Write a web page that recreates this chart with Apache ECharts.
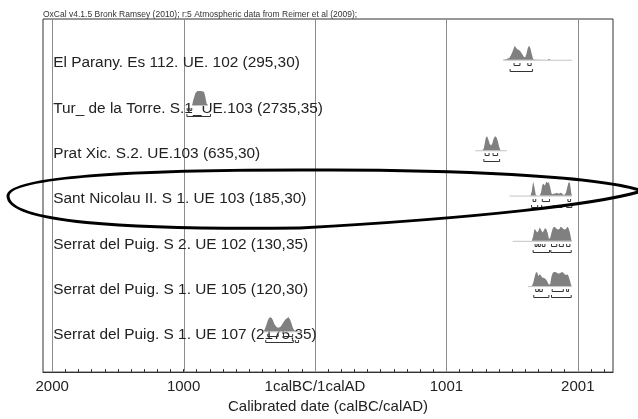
<!DOCTYPE html>
<html><head><meta charset="utf-8">
<script src="https://cdn.jsdelivr.net/npm/echarts@6/dist/echarts.min.js"></script>
<style>html,body{margin:0;padding:0;background:#fff}#c{width:638px;height:419px}</style>
</head><body><div id="c"></div>
<script>
const titleText = 'OxCal v4.1.5 Bronk Ramsey (2010); r:5 Atmospheric data from Reimer et al (2009);';
const axisTitle = 'Calibrated date (calBC/calAD)';
const sampleLabels = [
  'El Parany. Es 112. UE. 102 (295,30)',
  'Tur_ de la Torre. S.1_UE.103 (2735,35)',
  'Prat Xic. S.2. UE.103 (635,30)',
  'Sant Nicolau II. S 1. UE 103 (185,30)',
  'Serrat del Puig. S 2. UE 102 (130,35)',
  'Serrat del Puig. S 1. UE 105 (120,30)',
  'Serrat del Puig. S 1. UE 107 (2175,35)'
];
const tickYears = [-2000, -1000, 0, 1000, 2000];
const tickLabels = ['2000', '1000', '1calBC/1calAD', '1001', '2001'];
const gridYears = [-2000, -1000, 0, 1000, 2000];
const minorTickYears = [-2000,-1900,-1800,-1700,-1600,-1500,-1400,-1300,-1200,-1100,
  -1000,-900,-800,-700,-600,-500,-400,-300,-200,-100,0,100,200,300,400,500,600,700,800,900,
  1000,1100,1200,1300,1400,1500,1600,1700,1800,1900,2000,2100,2200];

// relative probability (1 = max) at calendar years
const probElParany = [[1430,0],[1440,0.02],[1460,0.05],[1480,0.15],[1490,0.3],[1500,0.5],[1510,0.75],[1520,1.0],[1530,0.85],[1540,0.75],[1550,0.7],[1560,0.65],[1570,0.5],[1580,0.35],[1590,0.2],[1600,0.18],[1610,0.45],[1620,0.85],[1630,1.0],[1640,0.8],[1650,0.4],[1660,0.05],[1670,0.01],[1770,0],[1780,0.07],[1790,0.02],[1800,0],[1955,0]];
const probTur = [[-935,0],[-925,0.4],[-910,0.85],[-895,1.0],[-870,1.0],[-845,0.95],[-835,0.6],[-825,0.1],[-815,0]];
const probPratXic = [[1220,0],[1275,0],[1285,0.15],[1290,0.4],[1300,0.9],[1310,1.0],[1320,0.75],[1330,0.45],[1340,0.35],[1350,0.5],[1360,0.85],[1370,1.0],[1380,0.95],[1390,0.7],[1400,0.3],[1410,0.02],[1420,0],[1460,0]];
const probSantNicolau = [[1480,0],[1640,0],[1650,0.3],[1660,1.0],[1670,0.6],[1680,0.05],[1690,0],[1710,0],[1720,0.2],[1730,0.75],[1740,0.85],[1750,0.7],[1760,1.0],[1770,0.9],[1780,0.95],[1790,0.6],[1800,0.15],[1810,0.1],[1820,0.15],[1830,0.15],[1840,0.2],[1850,0.15],[1860,0.15],[1870,0.2],[1880,0.15],[1890,0.05],[1900,0.05],[1910,0.2],[1920,0.6],[1930,0.95],[1940,0.9],[1950,0.2],[1955,0]];
const probSerratS2UE102 = [[1505,0],[1650,0],[1660,0.3],[1670,0.85],[1680,0.75],[1690,0.6],[1700,0.7],[1710,0.95],[1720,0.8],[1730,0.6],[1740,0.7],[1750,0.9],[1760,0.85],[1770,0.6],[1780,0.15],[1790,0.2],[1800,0.6],[1810,0.9],[1820,1.0],[1830,0.95],[1840,0.85],[1850,0.8],[1860,0.85],[1870,1.0],[1880,0.95],[1890,0.85],[1900,0.8],[1910,0.85],[1920,1.0],[1930,0.9],[1940,0.6],[1950,0.1],[1955,0]];
const probSerratS1UE105 = [[1620,0],[1650,0],[1660,0.2],[1670,0.6],[1680,0.95],[1690,1.0],[1700,0.7],[1710,0.85],[1720,0.75],[1730,0.6],[1740,0.6],[1750,0.55],[1760,0.45],[1770,0.3],[1780,0.1],[1790,0.15],[1800,0.7],[1810,0.95],[1820,1.0],[1830,1.0],[1840,0.95],[1850,0.9],[1860,0.9],[1870,0.95],[1880,1.0],[1890,0.95],[1900,0.85],[1910,0.8],[1920,0.85],[1930,0.7],[1940,0.4],[1950,0.05],[1955,0]];
const probSerratS1UE107 = [[-390,0],[-380,0.2],[-370,0.45],[-360,0.75],[-350,0.95],[-340,1.0],[-330,0.95],[-320,0.8],[-310,0.55],[-300,0.4],[-290,0.3],[-280,0.25],[-270,0.3],[-260,0.35],[-250,0.5],[-240,0.65],[-230,0.8],[-220,0.9],[-210,0.95],[-200,1.0],[-190,0.85],[-180,0.6],[-170,0.3],[-160,0.1],[-150,0.05],[-140,0.03],[-120,0],[-100,0]];

// highest probability ranges (68.2% and 95.4%)
const range68ElParany = [[1515,1560],[1620,1645]];
const range95ElParany = [[1485,1655]];
const range68Tur = [[-973,-962],[-952,-938]];
const range95Tur = [[-975,-795]];
const range68PratXic = [[1295,1325],[1355,1390]];
const range95PratXic = [[1285,1405]];
const range68SantNicolau = [[1660,1680],[1730,1785],[1925,1945]];
const range95SantNicolau = [[1648,1695],[1725,1815],[1835,1880],[1915,1955]];
const range68SerratS2UE102 = [[1675,1690],[1700,1715],[1730,1750],[1800,1840],[1860,1890],[1915,1940]];
const range95SerratS2UE102 = [[1660,1785],[1795,1950]];
const range68SerratS1UE105 = [[1680,1700],[1710,1730],[1805,1890],[1915,1930]];
const range95SerratS1UE105 = [[1665,1780],[1800,1950]];
const range68SerratS1UE107 = [[-360,-280],[-240,-170]];
const range95SerratS1UE107 = [[-375,-165],[-150,-125]];

const dists = [probElParany, probTur, probPratXic, probSantNicolau, probSerratS2UE102, probSerratS1UE105, probSerratS1UE107];
const ranges68 = [range68ElParany, range68Tur, range68PratXic, range68SantNicolau, range68SerratS2UE102, range68SerratS1UE105, range68SerratS1UE107];
const ranges95 = [range95ElParany, range95Tur, range95PratXic, range95SantNicolau, range95SerratS2UE102, range95SerratS1UE105, range95SerratS1UE107];

const bracketData = [];
ranges68.forEach((rs, i) => rs.forEach(r => bracketData.push([r[0], r[1], i, 0])));
ranges95.forEach((rs, i) => rs.forEach(r => bracketData.push([r[0], r[1], i, 1])));

const FONT = '"Liberation Sans", Arial, Helvetica, sans-serif';
const H = 14;

const ellipseStyle = { stroke: '#000', lineWidth: 3, fill: 'none' };

const chart = echarts.init(document.getElementById('c'));
chart.setOption({
  animation: false,
  backgroundColor: '#fff',
  title: {
    text: titleText, left: 43, top: 10, padding: 0,
    textStyle: { fontSize: 8.5, fontWeight: 'normal', color: '#333', fontFamily: FONT }
  },
  grid: { left: 43, right: 25, top: 19, bottom: 41, show: true, borderColor: '#333', borderWidth: 1, backgroundColor: 'transparent' },
  xAxis: {
    type: 'value', min: -2070, max: 2268, position: 'bottom',
    axisLine: { show: true, onZero: false, lineStyle: { color: '#333', width: 1 } },
    axisTick: { show: true, inside: true, length: 3, customValues: minorTickYears, lineStyle: { color: '#333' } },
    axisLabel: {
      customValues: tickYears,
      formatter: v => tickLabels[tickYears.indexOf(v)],
      fontSize: 15, color: '#222', margin: 7, fontFamily: FONT
    },
    splitLine: { show: false },
    name: axisTitle, nameLocation: 'middle', nameGap: 25,
    nameTextStyle: { fontSize: 15, color: '#222', fontFamily: FONT }
  },
  yAxis: { type: 'value', min: -0.9, max: 6.9, inverse: true, show: false },
  series: [
    {
      type: 'custom', z: 1, silent: true,
      data: gridYears.map(y => [y, 0]),
      renderItem: (params, api) => {
        const x = Math.round(api.coord([api.value(0), 0])[0]) + 0.5;
        const cs = params.coordSys;
        return { type: 'line', shape: { x1: x, y1: cs.y, x2: x, y2: cs.y + cs.height },
          style: { stroke: '#8c8c8c', lineWidth: 1 } };
      }
    },
    {
      type: 'custom', z: 2, silent: true,
      data: sampleLabels.map((t, i) => [-2000, i]),
      renderItem: (params, api) => {
        const p = api.coord([api.value(0), api.value(1)]);
        return { type: 'text', x: p[0] + 1, y: p[1] + 3.5,
          style: { text: sampleLabels[params.dataIndex], fontSize: 15.4, fontFamily: FONT, fill: '#222', align: 'left', verticalAlign: 'middle' } };
      }
    },
    {
      type: 'custom', z: 3, silent: true,
      data: dists.map((d, i) => [d[0][0], i]),
      renderItem: (params, api) => {
        const i = params.dataIndex;
        const d = dists[i];
        const pts = d.map(([yr, p]) => { const c = api.coord([yr, i]); return [c[0], c[1] - p * H]; });
        const b0 = api.coord([d[0][0], i]);
        const b1 = api.coord([d[d.length - 1][0], i]);
        pts.push([b1[0], b1[1]]);
        pts.push([b0[0], b0[1]]);
        return { type: 'group', children: [
          { type: 'line', shape: { x1: b0[0], y1: b0[1] + 0.5, x2: b1[0], y2: b1[1] + 0.5 }, style: { stroke: '#c4c4c4', lineWidth: 1 } },
          { type: 'polygon', shape: { points: pts }, style: { fill: '#808080' } }
        ] };
      }
    },
    {
      type: 'custom', z: 4, silent: true,
      data: bracketData,
      renderItem: (params, api) => {
        const a = api.coord([api.value(0), api.value(2)]);
        const b = api.coord([api.value(1), api.value(2)]);
        const y = Math.round(a[1] + (api.value(3) === 0 ? 5 : 11)) + 0.5;
        return { type: 'polyline', shape: { points: [[a[0], y - 2.5], [a[0], y], [b[0], y], [b[0], y - 2.5]] },
          style: { stroke: '#333', lineWidth: 1, fill: null } };
      }
    }
  ],
  graphic: [
    { type: 'bezierCurve', z: 100, silent: true, shape: { x1: 8, y1: 196, cpx1: 8, cpy1: 176, cpx2: 140, cpy2: 170, x2: 300, y2: 170 }, style: ellipseStyle },
    { type: 'bezierCurve', z: 100, silent: true, shape: { x1: 300, y1: 170, cpx1: 450, cpy1: 169, cpx2: 600, cpy2: 176, x2: 642, y2: 191 }, style: ellipseStyle },
    { type: 'bezierCurve', z: 100, silent: true, shape: { x1: 642, y1: 191, cpx1: 600, cpy1: 204, cpx2: 480, cpy2: 218, x2: 300, y2: 228 }, style: ellipseStyle },
    { type: 'bezierCurve', z: 100, silent: true, shape: { x1: 300, y1: 228, cpx1: 120, cpy1: 230, cpx2: 8, cpy2: 222, x2: 8, y2: 196 }, style: ellipseStyle }
  ]
});
</script>
</body></html>
